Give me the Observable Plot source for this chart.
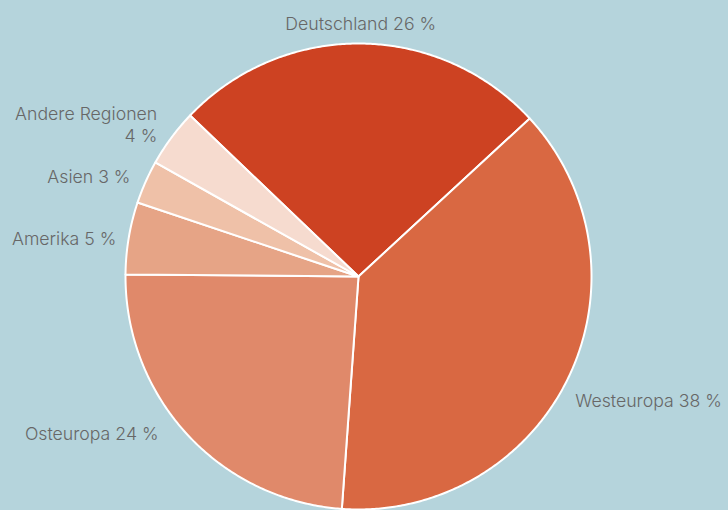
<!DOCTYPE html>
<html>
<head>
<meta charset="utf-8">
<script src="https://cdn.jsdelivr.net/npm/d3@7"></script>
<script src="https://cdn.jsdelivr.net/npm/@observablehq/plot@0.6"></script>
<style>
  html, body { margin: 0; padding: 0; background: #b5d4dc; }
  #chart svg { display: block; }
</style>
</head>
<body>
<div id="chart"></div>
<script>
const regions = ["Deutschland", "Westeuropa", "Osteuropa", "Amerika", "Asien", "Andere Regionen"];
const shares = [26, 38, 24, 5, 3, 4];
const labels = ["Deutschland 26 %", "Westeuropa 38 %", "Osteuropa 24 %", "Amerika 5 %", "Asien 3 %", "Andere Regionen\n4 %"];
const colors = ["#cd4222", "#d96842", "#e0896a", "#e6a486", "#efc1a8", "#f6dbcf"];

// layout
const W = 728, H = 510;
const cx = 358, cy = 276, R = 233;
const startDeg = -46.3;
const labelR = 1.08;
const labelNudge = {"Deutschland": [0, -2], "Westeuropa": [-10, 14], "Osteuropa": [-15, -14],
  "Amerika": [6, 3], "Asien": [2, 1], "Andere Regionen": [1, -3]};

const total = d3.sum(shares);
let acc = startDeg;
const slices = regions.map((name, i) => {
  const a0 = acc, a1 = acc + shares[i] / total * 360;
  acc = a1;
  return {name, value: shares[i], label: labels[i], a0, a1, mid: (a0 + a1) / 2};
});

const rad = d => d * Math.PI / 180;
const pts = [];
for (const s of slices) {
  pts.push({name: s.name, x: 0, y: 0});
  const n = Math.max(2, Math.ceil((s.a1 - s.a0) / 0.5));
  for (let k = 0; k <= n; k++) {
    const a = rad(s.a0 + (s.a1 - s.a0) * k / n);
    pts.push({name: s.name, x: Math.sin(a), y: -Math.cos(a)});
  }
}

const labelData = slices.map(s => {
  const a = rad(s.mid);
  const sx = Math.sin(a);
  const nudge = labelNudge[s.name] || [0, 0];
  return {
    ...s,
    x: labelR * sx + nudge[0] / R,
    y: -labelR * Math.cos(a) + nudge[1] / R,
    anchor: Math.abs(sx) < 0.2 ? "middle" : (sx > 0 ? "start" : "end")
  };
});

const textOpts = {x: "x", y: "y", text: "label", fill: "#676767", fontSize: 17.7, fontWeight: 300,
  fontFamily: "Inter, 'Open Sans', sans-serif", lineHeight: 1.24};

const chart = Plot.plot({
  width: W, height: H,
  margin: 0,
  style: {background: "#b5d4dc", overflow: "visible"},
  x: {domain: [-cx / R, (W - cx) / R], range: [0, W], axis: null},
  y: {domain: [-cy / R, (H - cy) / R], range: [0, H], axis: null},
  color: {domain: regions, range: colors},
  marks: [
    Plot.line(pts, {x: "x", y: "y", z: "name", fill: "name", stroke: "white", strokeWidth: 2,
      curve: "linear-closed", strokeLinejoin: "round"}),
    Plot.text(labelData.filter(d => d.anchor === "middle"), {...textOpts, textAnchor: "middle"}),
    Plot.text(labelData.filter(d => d.anchor === "start"), {...textOpts, textAnchor: "start"}),
    Plot.text(labelData.filter(d => d.anchor === "end"), {...textOpts, textAnchor: "end"})
  ]
});
document.getElementById("chart").append(chart);
</script>
</body>
</html>
